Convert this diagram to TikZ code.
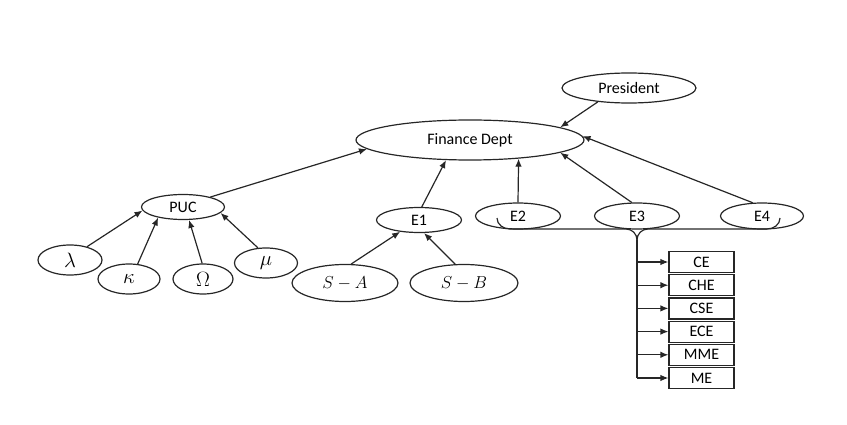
\documentclass[tikz,border=0pt]{standalone}
\usepackage{fontspec}
\setmainfont{Carlito}
\usepackage{tikz}
\usetikzlibrary{shapes,arrows.meta,positioning}

\begin{document}
\begin{tikzpicture}[
    x=1pt, y=-1pt,
    ell/.style={ellipse, draw=black!85, line width=1.2pt, inner sep=0pt, font=\fontsize{16}{17}\selectfont},
    greek/.style={ell, minimum width=62pt, minimum height=30pt, font=\fontsize{21}{23}\selectfont},
    dept/.style={rectangle, draw=black!85, line width=1.2pt, minimum width=65pt, minimum height=21pt, inner sep=0pt, font=\fontsize{16}{17}\selectfont},
    line/.style={draw=black!85, line width=1.2pt},
    arrow/.style={line, -{Latex[length=8pt,width=6.5pt]}}
]
    \useasboundingbox (0,0) rectangle (847,425);

    \node[ell, minimum width=134pt, minimum height=30pt] (pres) at (629,88) {President};
    \node[ell, minimum width=228pt, minimum height=40pt] (fin) at (470,140) {Finance Dept};

    \node[ell, minimum width=83pt, minimum height=25pt] (puc) at (183,207) {PUC};
    \node[ell, minimum width=85pt, minimum height=25pt] (e1) at (419,220) {E1};
    \node[ell, minimum width=85pt, minimum height=26pt] (e2) at (518,216) {E2};
    \node[ell, minimum width=85pt, minimum height=26pt] (e3) at (637,216) {E3};
    \node[ell, minimum width=83pt, minimum height=26pt] (e4) at (762,216) {E4};

    \node[greek, minimum width=64pt] (lam) at (70,260) {$\lambda$};
    \node[greek] (kap) at (129,279) {$\kappa$};
    \node[greek, minimum width=60pt] (om) at (203,279) {$\Omega$};
    \node[greek, minimum width=63pt] (mu) at (266,263) {$\mu$};

    \node[ell, minimum width=106pt, minimum height=37pt, font=\fontsize{19}{21}\selectfont] (sa) at (345,283) {$S-A$};
    \node[ell, minimum width=108pt, minimum height=37pt, font=\fontsize{19}{21}\selectfont] (sb) at (464,283) {$S-B$};

    \node[dept] (ce) at (701.5,262) {CE};
    \node[dept, below=1pt of ce] (che) {CHE};
    \node[dept, below=1pt of che] (cse) {CSE};
    \node[dept, below=1pt of cse] (ece) {ECE};
    \node[dept, below=1pt of ece] (mme) {MME};
    \node[dept, below=1pt of mme] (me) {ME};

    \draw[arrow] (pres.204) -- (fin.8.4);
    \draw[arrow] (puc.20) -- (fin.185);
    \draw[arrow] (e1.78) -- (fin.220);
    \draw[arrow] (e2.north) -- (fin.339.4);
    \draw[arrow] (e3.111) -- (fin.352.6);
    \draw[arrow] (e4.125) -- (fin.2);

    \draw[arrow] (lam.38) -- (puc.185);
    \draw[arrow] (kap.60) -- (puc.203);
    \draw[arrow] (om.93) -- (puc.295);
    \draw[arrow] (mu.118) -- (puc.351);

    \draw[arrow] (sa.72) -- (e1.212);
    \draw[arrow] (sb.115) -- (e1.291);

    \coordinate (busL) at (497,218);
    \coordinate (busR) at (780,218);
    \coordinate (fork) at (637,240);
    \draw[line] (busL) to[out=-90,in=180] ++(13,11) -- ++(116,0) to[out=0,in=90] (fork);
    \draw[line] (busR) to[out=-90,in=0] ++(-13,11) -- ++(-119,0) to[out=180,in=90] (fork);
    \draw[line] (fork) -- (fork |- me.west);

    \draw[arrow] (fork |- ce.west) -- (ce.west);
    \draw[arrow] (fork |- che.west) -- (che.west);
    \draw[arrow] (fork |- cse.west) -- (cse.west);
    \draw[arrow] (fork |- ece.west) -- (ece.west);
    \draw[arrow] (fork |- mme.west) -- (mme.west);
    \draw[arrow] (fork |- me.west) -- (me.west);
\end{tikzpicture}
\end{document}
